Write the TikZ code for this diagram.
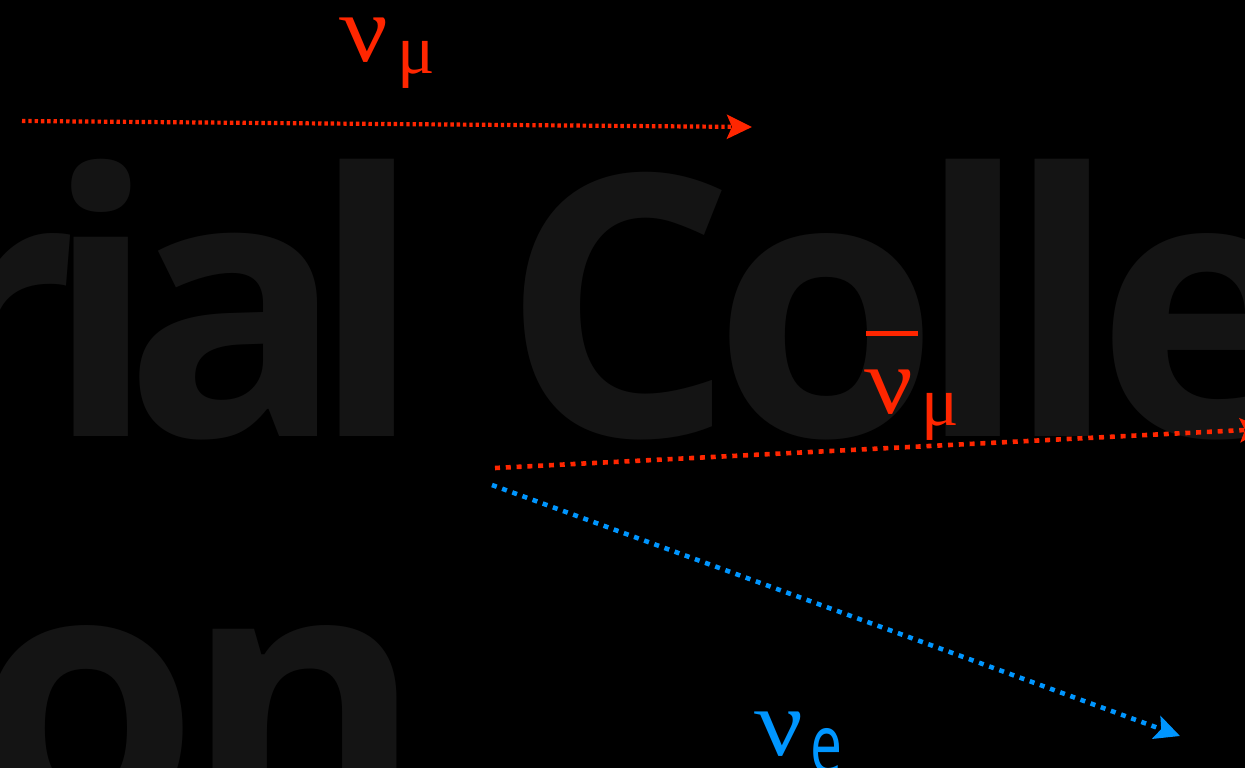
\documentclass[tikz,border=0pt]{standalone}
\usepackage{fontspec}
\setmainfont{Liberation Serif}
\newfontfamily\wmfont{Open Sans}
\newfontfamily\lblsans{Open Sans}
\usetikzlibrary{arrows.meta}
\definecolor{nured}{RGB}{255,38,0}
\definecolor{nublue}{RGB}{0,150,255}
\definecolor{wmgray}{RGB}{20,20,20}
\tikzset{
  wmtext/.style={text=wmgray, inner sep=0pt, font=\wmfont\bfseries\fontsize{365}{365}\selectfont},
  nulabel/.style={inner sep=0pt},
  nuglyph/.style={inner sep=0pt, xslant=-0.2, transform shape},
  headtip/.style={-{Stealth[length=25pt,width=24pt,inset=5pt]}},
  finedots/.style={headtip, line width=4.2pt, dash pattern=on 3.4pt off 2.9pt},
  coarsedots/.style={headtip, line width=4.6pt, dash pattern=on 5pt off 5.8pt},
  barline/.style={nured, line width=5pt},
}
\newcommand{\bignu}{\scalebox{1.12}[1]{\fontsize{95}{95}\selectfont\itshape ν}}
\newcommand{\submu}{\fontsize{70}{70}\selectfont μ}
\newcommand{\sube}{\scalebox{1}[1.45]{\lblsans\fontsize{57}{57}\selectfont e}}
\begin{document}
\begin{tikzpicture}[x=1pt,y=-1pt]
\useasboundingbox (0,0) rectangle (1245,768);
\fill[black] (0,0) rectangle (1245,768);
% watermark text
\node[wmtext, anchor=base east] (wm1) at (423,436) {\addfontfeature{LetterSpace=-9}rial};
\node[wmtext, anchor=base west] (wm2) at (502,436) {\addfontfeature{LetterSpace=-6}Colle};
\node[wmtext, anchor=base west] (wm3) at (-27,828) {\addfontfeature{LetterSpace=-4}on};
% labels: nu_mu
\node[nuglyph, text=nured, anchor=base west] (numu) at (346,62) {\bignu};
\node[nulabel, text=nured, anchor=base west] (numusub) at (397,74) {\submu};
% labels: anti nu_mu
\node[nuglyph, text=nured, anchor=base west] (nubarmu) at (871,413) {\bignu};
\node[nulabel, text=nured, anchor=base west] (nubarmusub) at (921,425) {\submu};
\coordinate (barL) at (866,333.5);
\coordinate (barR) at (918,333.5);
\draw[barline] (barL) -- (barR);
% labels: nu_e
\node[nuglyph, text=nublue, anchor=base west] (nue) at (761,755) {\bignu};
\node[nulabel, text=nublue, anchor=base west] (nuesub) at (810,773) {\sube};
% arrows
\coordinate (a1s) at (22,121);
\coordinate (a1e) at (752,127);
\coordinate (a2s) at (495,468);
\coordinate (a2e) at (1265,429);
\coordinate (a3s) at (492,485);
\coordinate (a3e) at (1180,736);
\draw[finedots, nured] (a1s) -- (a1e);
\draw[coarsedots, nured] (a2s) -- (a2e);
\draw[coarsedots, nublue] (a3s) -- (a3e);
\end{tikzpicture}
\end{document}
